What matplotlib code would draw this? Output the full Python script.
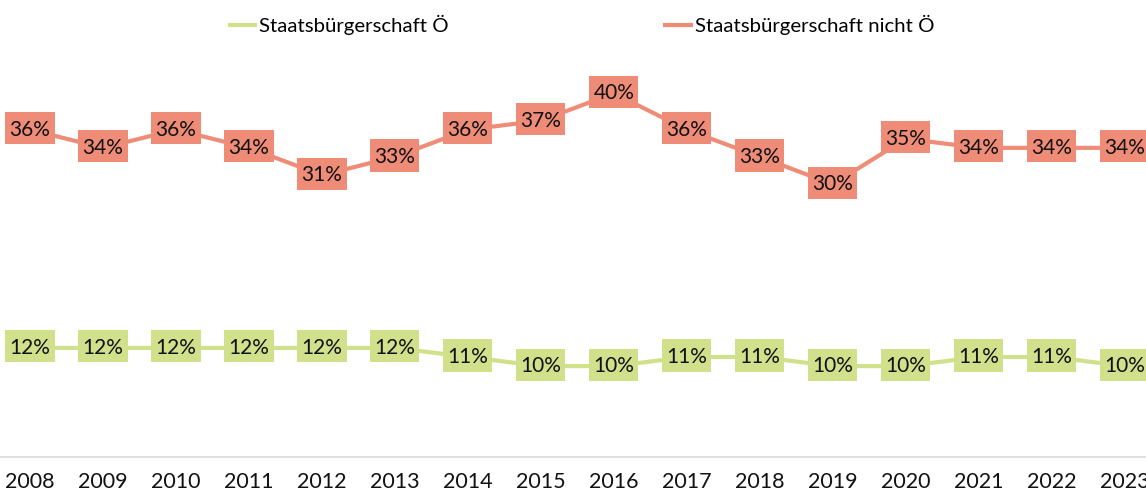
import matplotlib
matplotlib.use("Agg")
import matplotlib.pyplot as plt
from matplotlib.lines import Line2D
from matplotlib.path import Path
import numpy as np

YEARS = ["2008", "2009", "2010", "2011", "2012", "2013", "2014", "2015",
         "2016", "2017", "2018", "2019", "2020", "2021", "2022", "2023"]
AT_VALUES = [12, 12, 12, 12, 12, 12, 11, 10, 10, 11, 11, 10, 10, 11, 11, 10]
NOT_AT_VALUES = [36, 34, 36, 34, 31, 33, 36, 37, 40, 36, 33, 30, 35, 34, 34, 34]
SERIES_NAMES = ["Staatsbürgerschaft Ö", "Staatsbürgerschaft nicht Ö"]

GREEN = "#d0e08b"
SALMON = "#ef8c78"

plt.rcParams["font.family"] = ["Lato", "DejaVu Sans"]


def label_box(x0, y0, width, height, mutation_size):
    # more vertical than horizontal padding, like the data labels in the source
    px = 0.2 * mutation_size
    p_top = 0.36 * mutation_size
    p_bot = 0.22 * mutation_size
    x0, x1 = x0 - px, x0 + width + px
    y0, y1 = y0 - p_bot, y0 + height + p_top
    return Path([(x0, y0), (x1, y0), (x1, y1), (x0, y1), (x0, y0)], closed=True)


fig = plt.figure(figsize=(11.46, 4.93), dpi=100)
ax = fig.add_axes([0.0, 0.073, 1.0, 0.83])

x = np.arange(len(YEARS))
for vals, color in [(AT_VALUES, GREEN), (NOT_AT_VALUES, SALMON)]:
    ax.plot(x, vals, color=color, linewidth=3.0, zorder=2, solid_capstyle="butt")
    for xi, v in zip(x, vals):
        ax.text(xi, v, f"{v}%", ha="center", va="center", fontsize=15,
                color="#111111", zorder=3,
                bbox=dict(boxstyle=label_box, facecolor=color, edgecolor="none"))

ax.set_xlim(-0.41, 15.29)
ax.set_ylim(0, 45)
ax.set_xticks(x)
ax.set_xticklabels(YEARS, fontsize=15.5, color="#111111")
ax.tick_params(axis="x", length=0, pad=11)
ax.set_yticks([])
for side in ["left", "right", "top"]:
    ax.spines[side].set_visible(False)
ax.spines["bottom"].set_color("#d9d9d9")
ax.spines["bottom"].set_linewidth(1.2)

handles = [Line2D([0], [0], color=GREEN, linewidth=3.0),
           Line2D([0], [0], color=SALMON, linewidth=3.0)]
fig.legend(handles, SERIES_NAMES, loc="center", bbox_to_anchor=(0.508, 0.95), ncol=2,
           frameon=False, fontsize=14.7, handlelength=1.25, handletextpad=0.2,
           columnspacing=10.6)

fig.savefig("out.png", dpi=100)
